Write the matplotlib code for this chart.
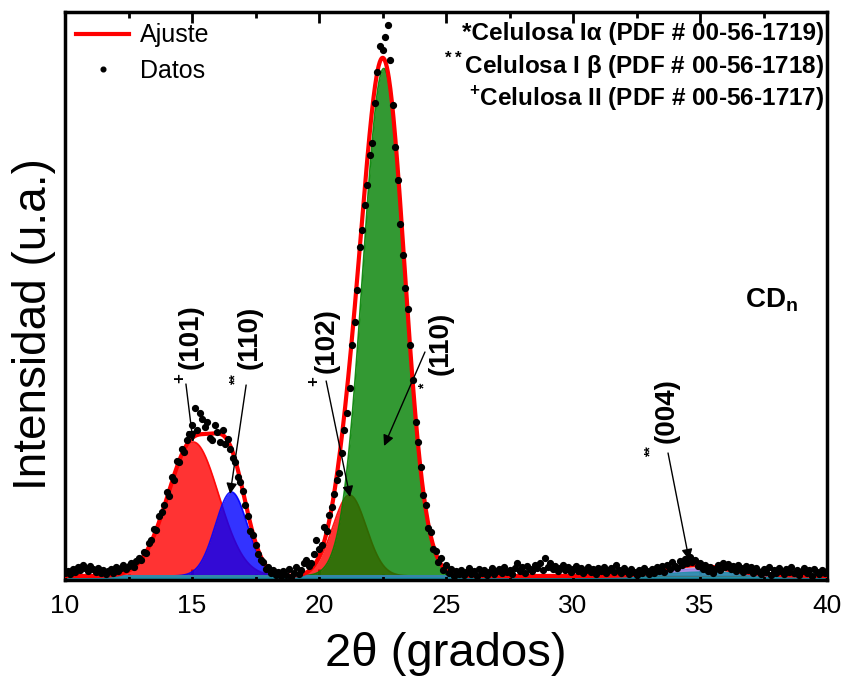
import numpy as np
import matplotlib.pyplot as plt
from matplotlib.ticker import MultipleLocator

plt.rcParams['font.family'] = ['Liberation Sans', 'DejaVu Sans']
plt.rcParams['mathtext.fontset'] = 'custom'
plt.rcParams['mathtext.rm'] = 'Liberation Sans'
plt.rcParams['mathtext.bf'] = 'Liberation Sans:bold'

# difractograma CDn, paso de 0.1 grados
two_theta = np.round(np.arange(10.0, 40.01, 0.1), 1)
intensity = [
    14, 18, 12, 22, 16, 26, 20, 30, 24, 18,
    28, 22, 16, 24, 14, 20, 12, 18, 22, 14,
    26, 18, 24, 30, 22, 28, 34, 26, 38, 44,
    40, 56, 54, 74, 80, 102, 100, 128, 136, 150,
    176, 168, 206, 200, 238, 236, 262, 256, 280, 292,
    310, 344, 300, 334, 322, 306, 316, 284, 280, 310,
    296, 276, 300, 272, 282, 262, 244, 236, 206, 196,
    178, 150, 128, 98, 90, 70, 52, 40, 36, 22,
    26, 14, 20, 10, 16, 8, 18, 10, 22, 6,
    14, 26, 12, 20, 34, 40, 28, 34, 52, 80,
    62, 70, 106, 98, 130, 146, 172, 200, 214, 254,
    300, 334, 384, 470, 516, 580, 666, 700, 750, 790,
    850, 874, 954, 1016, 1068, 1060, 1086, 1110, 1040, 950,
    866, 800, 712, 650, 584, 542, 470, 400, 316, 276,
    226, 170, 150, 104, 96, 62, 58, 36, 44, 20,
    30, 14, 22, 8, 18, 12, 20, 10, 16, 24,
    12, 18, 8, 22, 14, 20, 10, 16, 24, 12,
    18, 22, 14, 26, 16, 20, 12, 24, 34, 18,
    26, 14, 28, 22, 18, 30, 24, 34, 20, 44,
    26, 34, 22, 28, 18, 24, 30, 20, 26, 16,
    22, 28, 18, 24, 14, 20, 26, 16, 22, 12,
    24, 18, 26, 14, 20, 24, 16, 30, 20, 14,
    24, 18, 12, 22, 16, 10, 20, 14, 24, 18,
    12, 22, 14, 26, 18, 28, 16, 30, 22, 36,
    28, 24, 38, 30, 42, 34, 46, 36, 40, 28,
    34, 22, 30, 18, 26, 14, 22, 30, 20, 34,
    26, 32, 22, 28, 18, 30, 24, 16, 28, 20,
    26, 14, 24, 18, 12, 22, 16, 26, 10, 20,
    14, 24, 18, 12, 22, 16, 26, 14, 20, 10,
    18, 24, 14, 20, 8, 22, 16, 12, 20, 14,
    18,
]

# parametros del ajuste gaussiano
baseline = 8
peak_centres = [15.05, 16.55, 21.2, 22.55, 34.7, 35.4]
peak_heights = [268, 168, 162, 1015, 14, 8]
peak_sigmas = [1.0, 0.63, 0.66, 0.82, 1.0, 1.6]
peak_colors = ['#ff0000', '#0000ff', '#ff0000', '#008000', '#9370db', '#1f8fa8']

xf = np.linspace(10, 40, 1500)
peaks = [h * np.exp(-(xf - c) ** 2 / (2 * s ** 2))
         for c, h, s in zip(peak_centres, peak_heights, peak_sigmas)]
fit = baseline + np.sum(peaks, axis=0)

fig = plt.figure(figsize=(8.5, 6.83), dpi=100)
ax = fig.add_axes([0.0765, 0.1508, 0.8965, 0.8316])

ax.axhline(3, color='#e8b4c8', lw=1.5, zorder=1)
ax.axhline(6, color='#1f8fa8', lw=2.5, zorder=1)
for g, col in zip(peaks, peak_colors):
    ax.fill_between(xf, baseline, baseline + g, color=col, alpha=0.8, lw=0, zorder=2)
    ax.plot(xf, baseline + g, color=col, lw=1.2, alpha=0.9, zorder=2)

ax.plot(xf, fit, color='red', lw=3, label='Ajuste', zorder=4)
ax.plot(two_theta, intensity, 'o', ls='none', color='black', ms=4.2,
        label='Datos', zorder=5)

ax.set_xlim(10, 40)
ax.set_ylim(0, 1136)
ax.xaxis.set_major_locator(MultipleLocator(5))
ax.xaxis.set_minor_locator(MultipleLocator(2.5))
ax.set_yticks([])
ax.tick_params(axis='x', which='major', direction='in', top=True, length=8,
               width=2, labelsize=19, pad=10)
ax.tick_params(axis='x', which='minor', direction='in', top=True, length=4, width=2)
for sp in ax.spines.values():
    sp.set_linewidth(2.5)

ax.set_xlabel('2θ (grados)', fontsize=34, labelpad=10)
ax.set_ylabel('Intensidad (u.a.)', fontsize=33)
ax.yaxis.set_label_coords(-0.012, 0.45)

ax.legend(loc='upper left', frameon=False, fontsize=18, handlelength=2.1,
          handletextpad=0.45, borderaxespad=0.15, labelspacing=0.45,
          markerscale=0.8, borderpad=0.3)

# fases de celulosa
ax.text(39.9, 1094, '*Celulosa Iα (PDF # 00-56-1719)', ha='right', va='center',
        fontsize=17.5, fontweight='bold')
ax.text(39.9, 1028, r'$^{\mathbf{**}}$Celulosa I β (PDF # 00-56-1718)', ha='right',
        va='center', fontsize=17.5, fontweight='bold')
ax.text(39.9, 964, r'$^{\mathbf{+}}$Celulosa II (PDF # 00-56-1717)', ha='right',
        va='center', fontsize=17.5, fontweight='bold')
ax.text(37.83, 560, r'CD$_{\mathbf{n}}$', ha='center', va='center',
        fontsize=20, fontweight='bold')

# indices de Miller con flechas
planes = ['(101)', '(110)', '(102)', '(110)', '(004)']
plane_xy = [(14.96, 486), (17.28, 486), (20.28, 478), (24.8, 474), (33.7, 338)]
marks = ['+', '**', '+', '*', '**']
mark_xy = [(14.53, 404), (16.73, 400), (19.8, 398), (24.17, 388), (33.03, 256)]
arrow_from = [(14.76, 392), (17.13, 390), (20.28, 398), (24.17, 456), (33.74, 254)]
arrow_to = [(15.04, 276), (16.5, 172), (21.22, 166), (22.56, 268), (34.57, 40)]

for lab, (tx, ty) in zip(planes, plane_xy):
    ax.text(tx, ty, lab, rotation=90, ha='center', va='center', fontsize=20,
            fontweight='bold', zorder=6)
for m, (mx, my) in zip(marks, mark_xy):
    ax.text(mx, my, m, rotation=90, ha='center', va='center',
            fontsize=12 if m == '+' else 10, fontweight='bold', zorder=6)
for p0, p1 in zip(arrow_from, arrow_to):
    ax.annotate('', xy=p1, xytext=p0, zorder=6,
                arrowprops=dict(arrowstyle='-|>', color='black', lw=1,
                                mutation_scale=16, shrinkA=0, shrinkB=0))

fig.savefig('out.png', dpi=100)
